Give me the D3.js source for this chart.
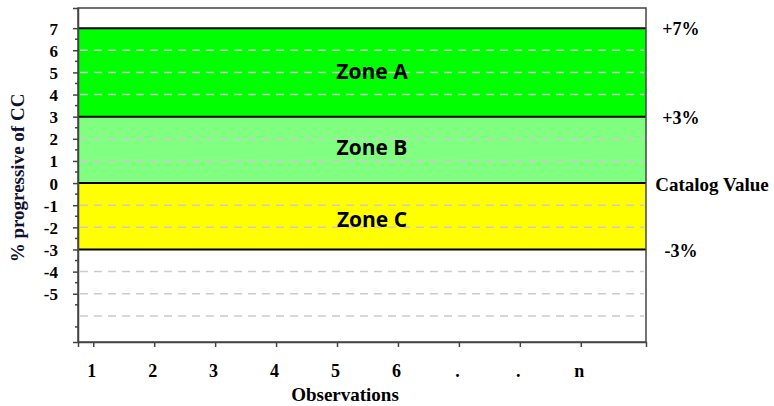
<!DOCTYPE html>
<html><head><meta charset="utf-8">
<script src="https://cdn.jsdelivr.net/npm/d3@7"></script>
<style>body{margin:0;background:#fff}svg{display:block}</style>
</head><body><svg id="c" width="774" height="406"></svg>
<script>
const xCategories = ["1","2","3","4","5","6",".",".","n"];
const yTicks = [7,6,5,4,3,2,1,0,-1,-2,-3,-4,-5];
const gridValues = [6,5,4,2,1,-1,-2,-4,-5,-6];
const limitValues = [7,3,0,-3];
const limitLabels = ["+7%","+3%","Catalog Value","-3%"];
const zoneNames = ["Zone A","Zone B","Zone C"];
const zoneFrom = [3,0,-3];
const zoneTo = [7,3,0];
const zoneColors = ["#00ff00","#80ff80","#ffff00"];

const svg = d3.select("#c");
const L=78, R=646, T=8, B=342;
const y = d3.scaleLinear().domain([-7.18,7.91]).range([B,T]);
const x = d3.scaleLinear().domain([-0.25,9.07]).range([L,R]);
const serif = "'Liberation Serif','Times New Roman',serif";

svg.selectAll("rect.zone").data(zoneNames).join("rect")
  .attr("x",L).attr("width",R-L)
  .attr("y",(d,i)=>y(zoneTo[i])).attr("height",(d,i)=>y(zoneFrom[i])-y(zoneTo[i]))
  .attr("fill",(d,i)=>zoneColors[i]);

svg.selectAll("line.grid").data(gridValues).join("line")
  .attr("x1",L+2).attr("x2",R-2).attr("y1",d=>y(d)).attr("y2",d=>y(d))
  .attr("stroke","#cccccc").attr("stroke-width",1.5).attr("stroke-dasharray","8,6");

svg.selectAll("line.lim").data(limitValues).join("line")
  .attr("x1",L).attr("x2",R).attr("y1",d=>y(d)).attr("y2",d=>y(d))
  .attr("stroke","#000").attr("stroke-width",2);

svg.append("rect").attr("x",L).attr("y",T).attr("width",R-L).attr("height",B-T)
  .attr("fill","none").attr("stroke","#444").attr("stroke-width",1.5);

const yAxis = d3.axisLeft(y).tickValues(yTicks).tickSize(5).tickFormat(d=>String(d));
const gy = svg.append("g").attr("transform",`translate(${L},0)`).call(yAxis);
gy.select(".domain").attr("stroke","#444").attr("stroke-width",1.5);
gy.selectAll(".tick line").attr("stroke","#444").attr("stroke-width",1.5);
gy.selectAll(".tick text").attr("x",-20).attr("dy","0.35em")
  .style("font-family",serif).style("font-size","17px").style("font-weight","bold").attr("fill","#000");
const minor = d3.range(-6.5,7.5,1);
svg.selectAll("line.minor").data(minor).join("line")
  .attr("x1",L-3).attr("x2",L).attr("y1",d=>y(d)).attr("y2",d=>y(d))
  .attr("stroke","#444").attr("stroke-width",1.5);

const xAxis = d3.axisBottom(x).tickValues(d3.range(xCategories.length)).tickSize(5).tickFormat(i=>xCategories[i]);
const gx = svg.append("g").attr("transform",`translate(0,${B})`).call(xAxis);
gx.select(".domain").attr("stroke","#444").attr("stroke-width",1.5);
gx.selectAll(".tick line").attr("stroke","#444").attr("stroke-width",1.5);
gx.selectAll(".tick text").attr("y",22).attr("dx","-2px")
  .style("font-family",serif).style("font-size","18px").style("font-weight","bold").attr("fill","#000");

svg.append("text").attr("x",345).attr("y",401).attr("text-anchor","middle")
  .style("font-family",serif).style("font-size","19px").style("font-weight","bold")
  .text("Observations");
svg.append("text").attr("transform","translate(24,178) rotate(-90)").attr("text-anchor","middle")
  .style("font-family",serif).style("font-size","19px").style("font-weight","bold").attr("fill","#101030")
  .text("% progressive of CC");

svg.selectAll("text.lim").data(limitLabels).join("text")
  .attr("x",(d,i)=> i===2 ? 712 : 681).attr("y",(d,i)=>y(limitValues[i])+1).attr("dy","0.35em").attr("text-anchor","middle")
  .style("font-family",serif).style("font-size",(d,i)=> i===2 ? "19px" : "18px").style("font-weight","bold")
  .text(d=>d);

const zoneShift = [-1,-2,3];
svg.selectAll("text.zone").data(zoneNames).join("text")
  .attr("x",372).attr("y",(d,i)=>y((zoneFrom[i]+zoneTo[i])/2)+zoneShift[i]).attr("dy","0.35em").attr("text-anchor","middle")
  .style("font-family","'Open Sans',sans-serif").style("font-size","21px").style("font-weight","700")
  .text(d=>d);
</script></body></html>
